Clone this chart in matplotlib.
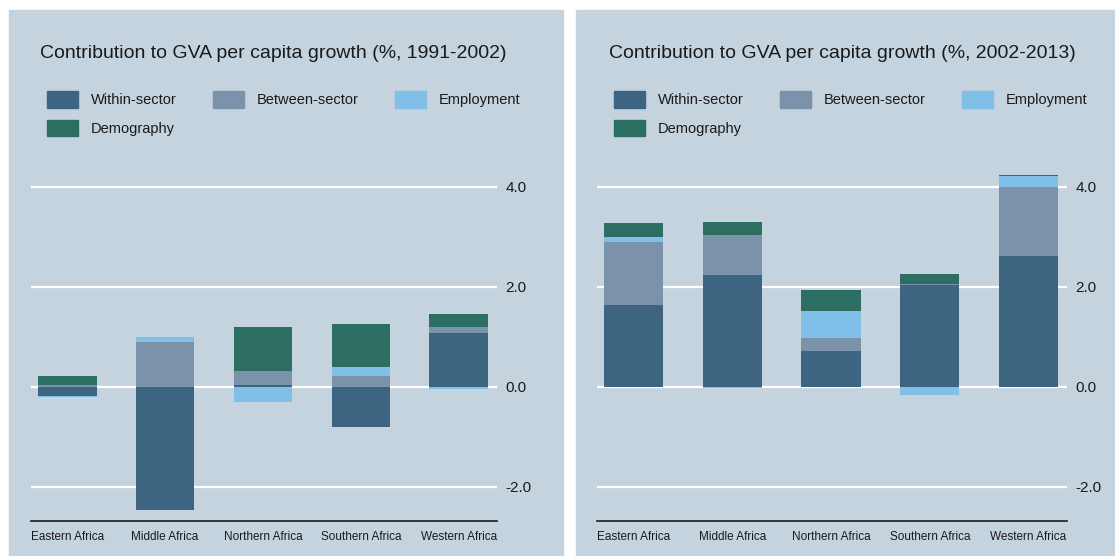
import numpy as np
import matplotlib.pyplot as plt
from matplotlib.patches import Rectangle, Patch

plt.rcParams['font.family'] = ['Liberation Sans', 'DejaVu Sans']

regions = ['Eastern Africa', 'Middle Africa', 'Northern Africa', 'Southern Africa', 'Western Africa']
components = ['Within-sector', 'Between-sector', 'Employment', 'Demography']

# 1991-2002
within_1 = [-0.17, -2.43, 0.05, -0.79, 1.09]
between_1 = [0.04, 0.91, 0.28, 0.23, 0.12]
employment_1 = [-0.03, 0.09, -0.29, 0.17, -0.04]
demography_1 = [0.19, -0.02, 0.87, 0.86, 0.25]

# 2002-2013
within_2 = [1.65, 2.25, 0.73, 2.04, 2.63]
between_2 = [1.25, 0.79, 0.25, 0.03, 1.37]
employment_2 = [0.10, -0.02, 0.54, -0.15, 0.22]
demography_2 = [0.29, 0.26, 0.42, 0.19, 0.03]

titles = ['Contribution to GVA per capita growth (%, 1991-2002)',
          'Contribution to GVA per capita growth (%, 2002-2013)']
yticks = [-2.0, 0.0, 2.0, 4.0]

colors = ['#3d6480', '#7b93aa', '#80bfe8', '#2d6e63']
panel_bg = '#c5d3df'
text_col = '#1a1a1a'

W, H = 1115, 556
fig = plt.figure(figsize=(W / 100, H / 100), dpi=100)
fig.patch.set_facecolor('white')

# panel backgrounds (pixels -> figure fraction)
panels = [(9, 563), (576, 1115)]
for x0, x1 in panels:
    fig.add_artist(Rectangle((x0 / W, 0), (x1 - x0) / W, 1 - 10 / H,
                             transform=fig.transFigure, color=panel_bg, zorder=-10))

axes_px = [(31, 497), (597, 1067)]
title_x = [40, 609]
legend_x = [47, 614]
top_px, bot_px = 167, 521

data = [[within_1, between_1, employment_1, demography_1],
        [within_2, between_2, employment_2, demography_2]]

x = np.arange(len(regions))
for k in range(2):
    x0, x1 = axes_px[k]
    ax = fig.add_axes([x0 / W, 1 - bot_px / H, (x1 - x0) / W, (bot_px - top_px) / H])
    ax.set_facecolor('none')

    pos_bottom = np.zeros(len(regions))
    neg_bottom = np.zeros(len(regions))
    for vals, c, lab in zip(data[k], colors, components):
        v = np.array(vals)
        bottom = np.where(v >= 0, pos_bottom, neg_bottom)
        ax.bar(x, v, width=0.6, bottom=bottom, color=c, label=lab, zorder=3)
        pos_bottom = pos_bottom + np.where(v >= 0, v, 0)
        neg_bottom = neg_bottom + np.where(v < 0, v, 0)

    ax.set_xlim(-0.37, 4.39)
    ax.set_ylim(-2.68, 4.4)
    ax.set_yticks(yticks)
    ax.set_yticklabels(['%.1f' % t for t in yticks])
    ax.yaxis.tick_right()
    ax.tick_params(axis='y', length=0, pad=6, labelsize=11, labelcolor=text_col)
    ax.set_xticks(x)
    ax.set_xticklabels(regions)
    ax.tick_params(axis='x', length=0, pad=7.5, labelsize=8.5, labelcolor=text_col)
    for t in yticks:
        ax.axhline(t, color='white', lw=1.6, zorder=1)
    for s in ['top', 'left', 'right']:
        ax.spines[s].set_visible(False)
    ax.spines['bottom'].set_color('#1a1a1a')
    ax.spines['bottom'].set_linewidth(1.2)

    fig.text(title_x[k] / W, 1 - 53.5 / H, titles[k], fontsize=14,
             color=text_col, va='center', ha='left')

    handles = [Patch(color=c) for c in colors]
    order = [0, 3, 1, 2]
    fig.legend([handles[i] for i in order], [components[i] for i in order],
               loc='upper left', bbox_to_anchor=(legend_x[k] / W, 1 - 91 / H),
               ncol=3, frameon=False, fontsize=10.5, borderpad=0, borderaxespad=0,
               handlelength=2.1, handleheight=1.37, handletextpad=0.9,
               columnspacing=2.5, labelspacing=0.82, labelcolor=text_col)

plt.savefig('out.png', dpi=100)
